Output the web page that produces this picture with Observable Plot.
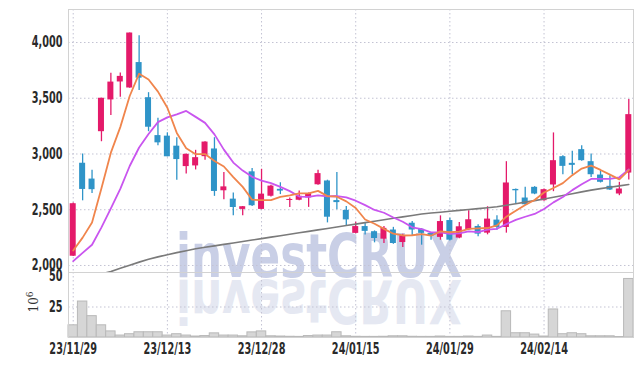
<!DOCTYPE html>
<html><head><meta charset="utf-8">
<script src="https://cdn.jsdelivr.net/npm/d3@7"></script>
<script src="https://cdn.jsdelivr.net/npm/@observablehq/plot@0.6"></script>
<style>
body{margin:0;background:#fff;}
#wrap{position:relative;width:642px;height:366px;overflow:hidden;}
#wrap svg{position:absolute;left:0;}
#unit{position:absolute;left:33px;top:302px;transform:translate(-50%,-50%) rotate(-90deg);font-family:"DejaVu Serif","Liberation Serif",serif;font-size:12px;color:#333;white-space:nowrap;line-height:1;}
#unit sup{font-size:9px;}
</style></head>
<body>
<div id="wrap"></div>
<script>
const dates = ["23/11/29","23/11/30","23/12/01","23/12/04","23/12/05","23/12/06","23/12/07","23/12/08","23/12/11","23/12/12",
"23/12/13","23/12/14","23/12/15","23/12/18","23/12/19","23/12/20","23/12/21","23/12/22","23/12/26","23/12/27",
"23/12/28","24/01/02","24/01/03","24/01/04","24/01/05","24/01/08","24/01/09","24/01/10","24/01/11","24/01/12",
"24/01/15","24/01/16","24/01/17","24/01/18","24/01/19","24/01/22","24/01/23","24/01/24","24/01/25","24/01/26",
"24/01/29","24/01/30","24/01/31","24/02/01","24/02/02","24/02/05","24/02/06","24/02/07","24/02/08","24/02/13",
"24/02/14","24/02/15","24/02/16","24/02/19","24/02/20","24/02/21","24/02/22","24/02/23","24/02/26","24/02/27"];
const tickLabels = ["23/11/29","23/12/13","23/12/28","24/01/15","24/01/29","24/02/14"];
const priceTicks = [2000,2500,3000,3500,4000];
const volTicks = [25,50];

const open  = [2083,2917,2775,3200,3485,3646,3592,3820,3505,3165,3160,3070,2887,2893,2976,3045,2670,2595,2503,2840,
               2503,2621,2683,2583,2585,2606,2724,2758,2582,2494,2288,2349,2303,2236,2318,2206,2379,2324,2288,2252,
               2403,2246,2320,2350,2290,2407,2341,2682,2605,2701,2581,2722,2976,2916,3039,2931,2811,2710,2641,2829];
const high  = [2560,3000,2855,3500,3725,3726,4085,4060,3550,3320,3190,3145,3000,3033,3110,3146,2833,2650,2530,2870,
               2863,2720,2742,2606,2667,2650,2855,2765,2833,2530,2388,2376,2310,2350,2342,2280,2395,2330,2295,2445,
               2424,2386,2491,2365,2527,2446,2931,2686,2701,2707,2685,3189,2985,3024,3075,3000,2850,2805,2746,3488];
const low   = [2080,2580,2645,3110,3345,3510,3590,3570,3200,3075,2975,2765,2820,2857,2943,2620,2590,2447,2447,2530,
               2500,2615,2636,2521,2580,2521,2720,2382,2500,2358,2285,2273,2203,2197,2190,2161,2267,2182,2227,2227,
               2220,2240,2315,2257,2275,2317,2290,2551,2540,2635,2575,2662,2814,2814,2935,2790,2740,2672,2626,2766];
const close = [2554,2682,2680,3500,3645,3696,4085,3680,3240,3100,2975,2950,2997,2967,3107,2664,2705,2520,2527,2536,
               2640,2712,2667,2592,2621,2645,2824,2433,2564,2409,2349,2306,2242,2333,2197,2267,2318,2288,2264,2394,
               2227,2347,2410,2281,2416,2341,2740,2670,2545,2641,2680,2940,2889,2898,2940,2814,2746,2677,2686,3353];
const volume = [10,29.5,17.5,10,5,1.6,2.7,4.3,4.3,4.3,1.6,2.7,1.6,0.8,1.2,3.4,1.6,1.6,1,4.2,
                5,1,0.8,0.6,0.5,1.2,1.6,1.6,4.3,1,0.6,0.5,0.5,0.6,1,1,0.6,0.5,0.5,0.8,
                0.5,0.5,0.8,0.5,1.6,0.5,21.5,3.5,3.5,2.4,0.8,23,2.7,3.5,2.7,1,1,1,0.4,48];
const ma5  = [2134,2250,2385,2693,3012,3241,3520,3720,3668,3559,3415,3189,3052,2998,2999,2937,2888,2793,2705,2590,
              2586,2587,2616,2629,2646,2647,2669,2622,2617,2575,2516,2412,2374,2328,2285,2269,2271,2281,2267,2306,
              2298,2304,2328,2332,2336,2359,2438,2490,2542,2587,2655,2695,2739,2810,2869,2896,2857,2815,2772,2855];
const ma10 = [2039,2113,2186,2342,2512,2687,2892,3058,3179,3286,3328,3355,3386,3333,3279,3176,3039,2923,2851,2795,
              2761,2738,2705,2667,2618,2616,2628,2619,2623,2610,2581,2541,2498,2473,2430,2392,2342,2327,2297,2296,
              2284,2288,2305,2299,2321,2329,2371,2409,2437,2462,2507,2566,2614,2676,2728,2776,2776,2777,2791,2862];
const ma60 = [1850,1875,1900,1925,1945,1975,2003,2030,2055,2077,2097,2115,2132,2150,2163,2176,2189,2202,2215,2228,
              2241,2254,2267,2280,2293,2306,2319,2332,2345,2358,2371,2384,2397,2410,2423,2436,2449,2462,2470,2478,
              2486,2494,2502,2510,2518,2527,2540,2554,2568,2582,2596,2612,2628,2644,2660,2676,2689,2702,2714,2726];

const rows = dates.map((d,i)=>({date:d,o:open[i],h:high[i],l:low[i],c:close[i],v:volume[i],ma5:ma5[i],ma10:ma10[i],ma60:ma60[i]}));
const RED="#e41a6a", BLUE="#2f94c8";
const col = d => d.c >= d.o ? RED : BLUE;
const FONT = '"Liberation Sans Narrow","DejaVu Sans Condensed","Liberation Sans",sans-serif';
const GRID = {stroke:"#c3c3d3", strokeDasharray:"1.5 2.5", strokeWidth:1};
const W = 642, ML = 68, MR = 9;
const fmt = d3.format(",");
const xScale = {type:"band", domain: dates, padding: 0, round: false, axis: null};

const main = Plot.plot({
  width: W, height: 272, marginTop: 9, marginBottom: 0, marginLeft: ML, marginRight: MR,
  style: {background:"transparent", fontFamily: FONT, fontSize:"15px", fontWeight:"bold", color:"#2a2a2a", overflow:"visible"},
  x: xScale,
  y: {domain:[1937,4296], axis: null},
  color: {type:"identity"},
  marks: [
    Plot.ruleY(priceTicks, GRID),
    Plot.ruleX(tickLabels, GRID),
    Plot.axisY(priceTicks, {tickSize:0, tickPadding:6, tickFormat: d => fmt(d), label:null, fontSize:15, fontWeight:"bold"}),
    Plot.ruleX(rows, {x:"date", y1:"l", y2:"h", stroke: col, strokeWidth:1.3}),
    Plot.barY(rows, {x:"date", y1:"o", y2:"c", fill: col, insetLeft:1.7, insetRight:1.7}),
    Plot.line(rows, {x:"date", y:"ma60", stroke:"#7a7a7a", strokeWidth:1.6, clip:true}),
    Plot.line(rows, {x:"date", y:"ma10", stroke:"#c955ef", strokeWidth:1.8}),
    Plot.line(rows, {x:"date", y:"ma5", stroke:"#f0854c", strokeWidth:1.8}),
    Plot.frame({stroke:"#d2d2d2"})
  ]
});

const vol = Plot.plot({
  width: W, height: 94, marginTop: 0, marginBottom: 29, marginLeft: ML, marginRight: MR,
  style: {background:"transparent", fontFamily: FONT, fontSize:"15px", fontWeight:"bold", color:"#2a2a2a", overflow:"visible"},
  x: xScale,
  y: {domain:[0,53.3], axis: null},
  marks: [
    Plot.ruleY([25], GRID),
    Plot.ruleX(tickLabels, GRID),
    Plot.barY(rows, {x:"date", y:"v", fill:"#d6d6d6", stroke:"#b9b9b9", strokeWidth:1}),
    Plot.axisY(volTicks, {tickSize:0, tickPadding:6, label:null, fontSize:15, fontWeight:"bold"}),
    Plot.axisX({ticks: tickLabels, tickSize:0, tickPadding:6, label:null, fontSize:15, fontWeight:"bold"}),
    Plot.frame({stroke:"#d2d2d2"})
  ]
});

// watermark (behind the charts)
const wrap = d3.select("#wrap");
const wm = wrap.append("svg").attr("width",W).attr("height",366)
  .style("position","absolute").style("left","0").style("top","0");
const wmText = "investCRUX";
wm.append("text").text(wmText).attr("x",176).attr("y",277)
  .attr("font-family",FONT).attr("font-weight","bold").attr("font-size",60)
  .attr("textLength",286).attr("lengthAdjust","spacingAndGlyphs")
  .attr("fill","#c9cfe6");
wm.append("text").text(wmText).attr("x",176).attr("y",-280)
  .attr("transform","scale(1,-1)")
  .attr("font-family",FONT).attr("font-weight","bold").attr("font-size",60)
  .attr("textLength",286).attr("lengthAdjust","spacingAndGlyphs")
  .attr("fill","#e5e8f2");

main.style.position = "absolute"; main.style.top = "0px"; main.style.left = "0px";
vol.style.position = "absolute"; vol.style.top = "272px"; vol.style.left = "0px";
document.getElementById("wrap").appendChild(main);
document.getElementById("wrap").appendChild(vol);

// narrow the tick labels (condensed face look)
for (const svg of [main, vol]) {
  d3.select(svg).selectAll("g[aria-label$='tick label'] text").each(function() {
    const len = this.getComputedTextLength();
    if (len > 0) {
      this.setAttribute("textLength", (len * 0.72).toFixed(1));
      this.setAttribute("lengthAdjust", "spacingAndGlyphs");
    }
  });
}

const unit = document.createElement("div");
unit.id = "unit";
unit.innerHTML = "10<sup>6</sup>";
document.getElementById("wrap").appendChild(unit);
</script>
</body></html>
